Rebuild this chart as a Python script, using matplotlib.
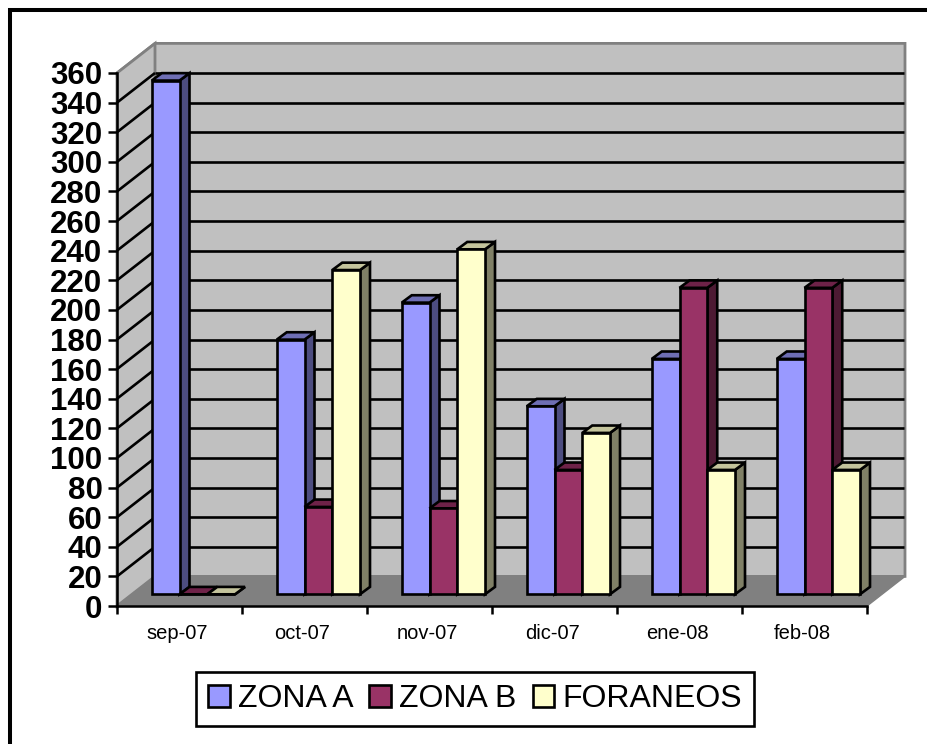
import matplotlib
matplotlib.use("Agg")
import matplotlib.pyplot as plt
from matplotlib.lines import Line2D
from matplotlib.patches import Polygon, Patch

plt.rcParams['font.family'] = ['Liberation Sans', 'DejaVu Sans']

months = ['sep-07', 'oct-07', 'nov-07', 'dic-07', 'ene-08', 'feb-08']
zona_a = [347, 172, 197, 127, 159, 159]
zona_b = [0, 59, 58, 84, 207, 207]
foraneos = [0, 219, 233, 109, 84, 84]
series_names = ['ZONA A', 'ZONA B', 'FORANEOS']
y_ticks = list(range(0, 361, 20))

colors = ['#9999FF', '#993366', '#FFFFCC']
sides = ['#4D4D80', '#4D1A33', '#808066']
tops = ['#6E6EB4', '#6E2248', '#C4C49C']

W, H = 927, 744
L, R, T, B = 117, 867, 73, 606
fig = plt.figure(figsize=(W / 100, H / 100), dpi=100, facecolor='white')
ax = fig.add_axes([L / W, 1 - B / H, (R - L) / W, (B - T) / H])
ax.set_xlim(0, 6)
ax.set_ylim(0, 360)
ax.patch.set_visible(False)
for s in ('top', 'right'):
    ax.spines[s].set_visible(False)
for s in ('left', 'bottom'):
    ax.spines[s].set_linewidth(1.8)
    ax.spines[s].set_zorder(3)

# depth of the box and of the bars, in data units
DX, DY = 0.304, 20
OX, OY = 0.117, 7.9
BX, BY = 0.08, 5
BAR_W = 0.222
GAP = 0.164
LW = 1.9


def add(pts, fc, ec, lw, z):
    ax.add_patch(Polygon(pts, closed=True, fc=fc, ec=ec, lw=lw, zorder=z,
                         clip_on=False, joinstyle='miter'))


# walls and floor
add([(0, 360), (DX, 360 + DY), (6 + DX, 360 + DY), (6 + DX, DY), (DX, DY), (DX, 0)], '#C0C0C0', '#808080', 2, 1)
add([(0, 0), (0, 360), (DX, 360 + DY), (DX, DY)], '#C0C0C0', '#808080', 2, 1)
add([(0, 0), (DX, DY), (6 + DX, DY), (6, 0)], '#808080', '#808080', 1, 1)
for v in y_ticks:
    if 0 < v < 360:
        ax.plot([DX, 6 + DX - 0.01], [v + DY, v + DY], color='black', lw=LW, zorder=2, clip_on=False, solid_capstyle='butt')
        ax.plot([0, DX], [v, v + DY], color='black', lw=LW, zorder=2, clip_on=False, solid_capstyle='butt')

# bars
all_series = [zona_a, zona_b, foraneos]
z = 4
for i in range(len(months)):
    for j, vals in enumerate(all_series):
        x0 = i + GAP + j * BAR_W + OX - 0.003
        v = vals[i]
        x1 = x0 + BAR_W
        add([(x1, OY), (x1 + BX, OY + BY), (x1 + BX, OY + BY + v), (x1, OY + v)], sides[j], 'black', LW, z)
        add([(x0, OY + v), (x0 + BX, OY + v + BY), (x1 + BX, OY + v + BY), (x1, OY + v)], tops[j], 'black', LW, z)
        ax.bar(x0, v, BAR_W, bottom=OY, align='edge', color=colors[j], edgecolor='black',
               linewidth=LW, zorder=z + 0.5, clip_on=False)
        z += 1

ax.set_yticks(y_ticks)
ax.set_yticklabels([str(v) for v in y_ticks], fontsize=22.5, fontweight='bold')
ax.set_xticks(range(7))
ax.set_xticklabels([''] * 7)
ax.tick_params(axis='x', length=6, width=1.8)
ax.tick_params(axis='y', length=6.5, width=1.8, pad=4)
for i, m in enumerate(months):
    ax.annotate(m, (i + 0.5, 0), xytext=(-1.5, -19.5), textcoords='offset points', ha='center', va='center', fontsize=14.5)

handles = [Patch(fc=c, ec='black', lw=LW) for c in colors]
leg = fig.legend(handles, series_names, ncol=3, loc='center', bbox_to_anchor=(475 / W, 1 - 699 / H),
                 fontsize=23, frameon=True, fancybox=False, edgecolor='black', framealpha=1,
                 handlelength=0.68, handleheight=0.68, handletextpad=0.25, columnspacing=0.5,
                 borderpad=0.38, borderaxespad=0)
leg.get_frame().set_linewidth(1.9)

fig.add_artist(Line2D([10 / W, 10 / W, 1], [0, 1 - 10 / H, 1 - 10 / H], transform=fig.transFigure,
                      color='black', lw=2.9, solid_joinstyle='miter', solid_capstyle='butt'))
fig.savefig('out.png', dpi=100)
